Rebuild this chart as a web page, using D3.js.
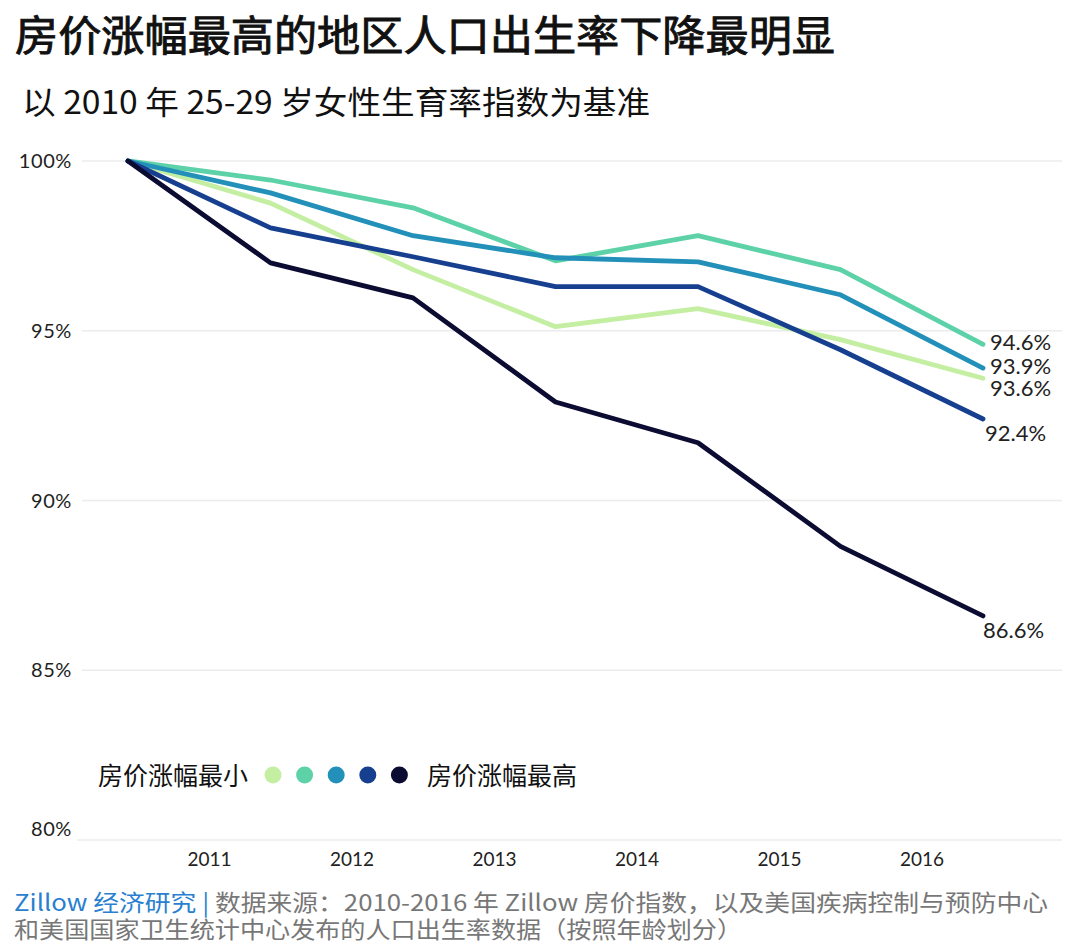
<!DOCTYPE html>
<html><head><meta charset="utf-8">
<script src="https://cdn.jsdelivr.net/npm/d3@7"></script>
<style>
html,body{margin:0;padding:0;background:#fff;}
svg{display:block;}
</style></head>
<body>
<svg id="chart" width="1080" height="946"></svg>
<script>
const years = [2010, 2011, 2012, 2013, 2014, 2015, 2016];
const tickYears = [2011, 2012, 2013, 2014, 2015, 2016];
const yTicks = [80, 85, 90, 95, 100];
const seriesNames = ["房价涨幅最小", "2", "3", "4", "房价涨幅最高"];
const seriesColors = ["#c4efa3", "#5dd2a8", "#2290b9", "#173f8f", "#0c0c33"];
const s1 = [100, 98.76, 96.8, 95.12, 95.65, 94.74, 93.6];
const s2 = [100, 99.44, 98.62, 97.06, 97.8, 96.8, 94.6];
const s3 = [100, 99.06, 97.8, 97.15, 97.03, 96.06, 93.9];
const s4 = [100, 98.03, 97.18, 96.3, 96.3, 94.44, 92.4];
const s5 = [100, 97.0, 95.97, 92.9, 91.7, 88.65, 86.6];
const endLabels = ["93.6%", "94.6%", "93.9%", "92.4%", "86.6%"];
const allSeries = [s1, s2, s3, s4, s5];

const svg = d3.select("#chart");
const cjk = "'Noto Sans CJK SC', 'Noto Sans', sans-serif";
const num = "Lato, 'Open Sans', sans-serif";

const x = d3.scalePoint().domain(years).range([128, 983]);
const y = d3.scaleLinear().domain([80, 100]).range([840, 161]);

// Title
svg.append("text").attr("x", 15).attr("y", 51)
  .attr("textLength", 820).attr("lengthAdjust", "spacingAndGlyphs")
  .style("font-family", cjk).style("font-size", "42px").style("font-weight", 400)
  .attr("fill", "#111").attr("stroke", "#111").attr("stroke-width", 0.9)
  .text("房价涨幅最高的地区人口出生率下降最明显");
svg.append("text").attr("x", 22).attr("y", 114)
  .attr("textLength", 628).attr("lengthAdjust", "spacingAndGlyphs")
  .style("font-family", cjk).style("font-size", "32px").attr("fill", "#111")
  .text("以 2010 年 25-29 岁女性生育率指数为基准");

// Grid
const grid = svg.append("g");
grid.selectAll("line").data(yTicks).join("line")
  .attr("x1", d => d === 80 ? 77 : 82).attr("x2", 1062)
  .attr("y1", d => y(d)).attr("y2", d => y(d))
  .attr("stroke", "#ececec").attr("stroke-width", 1.5);
grid.selectAll("text").data(yTicks).join("text")
  .attr("x", 72).attr("y", d => y(d) + (d === 80 ? -11 : 0))
  .attr("dy", "0.35em").attr("text-anchor", "end")
  .style("font-family", num).style("font-size", "20px").style("letter-spacing", "0.6px").attr("fill", "#222")
  .text(d => d + "%");

// X labels
svg.append("g").selectAll("text").data(tickYears).join("text")
  .attr("x", d => x(d) - 61).attr("y", 866)
  .attr("text-anchor", "middle")
  .style("font-family", num).style("font-size", "19px").attr("fill", "#222")
  .text(d => d);

// Lines
const line = d3.line().x((d, i) => x(years[i])).y(d => y(d));
svg.append("g").selectAll("path").data(allSeries).join("path")
  .attr("d", d => line(d)).attr("fill", "none")
  .attr("stroke", (d, i) => seriesColors[i]).attr("stroke-width", 4.8)
  .attr("stroke-linejoin", "round").attr("stroke-linecap", "round");

// End labels
const labelOffsets = [[7, 10], [7, -2], [7, -2], [2, 14], [0, 14]];
svg.append("g").selectAll("text").data(allSeries).join("text")
  .attr("x", (d, i) => x(2016) + labelOffsets[i][0])
  .attr("y", (d, i) => y(d[6]) + labelOffsets[i][1])
  .attr("dy", "0.35em")
  .style("font-family", num).style("font-size", "22px").attr("fill", "#222")
  .text((d, i) => endLabels[i]);

// Legend
const lg = svg.append("g");
lg.append("text").attr("x", 98).attr("y", 776).attr("dy", "0.35em")
  .style("font-family", cjk).style("font-size", "25px").attr("fill", "#111").text(seriesNames[0]);
lg.selectAll("circle").data(seriesColors).join("circle")
  .attr("cx", (d, i) => 273 + i * 31.6).attr("cy", 775).attr("r", 8.5).attr("fill", d => d);
lg.append("text").attr("x", 427).attr("y", 776).attr("dy", "0.35em")
  .style("font-family", cjk).style("font-size", "25px").attr("fill", "#111").text(seriesNames[4]);

// Footer
const f1 = svg.append("text").attr("x", 14).attr("y", 911)
  .attr("textLength", 1034).attr("lengthAdjust", "spacingAndGlyphs")
  .style("font-family", cjk).style("font-size", "23px");
f1.append("tspan").attr("fill", "#2a7fd0").text("Zillow 经济研究 | ");
f1.append("tspan").attr("fill", "#777").text("数据来源：2010-2016 年 Zillow 房价指数，以及美国疾病控制与预防中心");
svg.append("text").attr("x", 14).attr("y", 938)
  .attr("textLength", 728).attr("lengthAdjust", "spacingAndGlyphs")
  .style("font-family", cjk).style("font-size", "23px").attr("fill", "#777")
  .text("和美国国家卫生统计中心发布的人口出生率数据（按照年龄划分）");
</script>
</body></html>
